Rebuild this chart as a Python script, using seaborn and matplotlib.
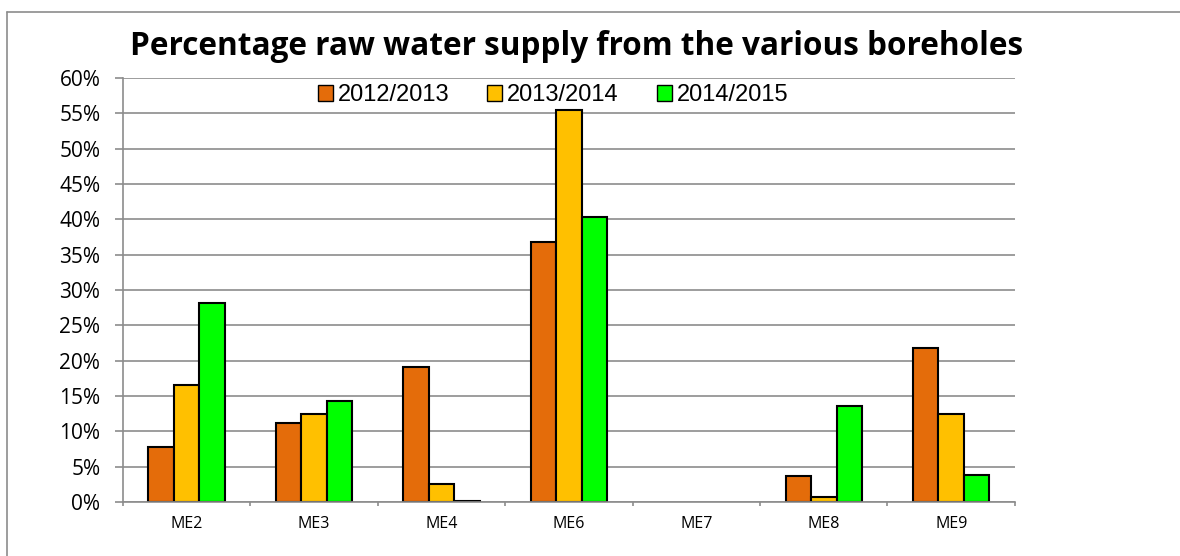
import matplotlib
matplotlib.use('Agg')
import matplotlib.pyplot as plt
from matplotlib.lines import Line2D
from matplotlib.ticker import PercentFormatter, FixedLocator, FixedFormatter
import seaborn as sns
import pandas as pd

### data (percent)
boreholes = ['ME2', 'ME3', 'ME4', 'ME6', 'ME7', 'ME8', 'ME9']
years = ['2012/2013', '2013/2014', '2014/2015']
supply_2012 = [7.8, 11.2, 19.1, 36.8, 0.0, 3.7, 21.8]
supply_2013 = [16.5, 12.5, 2.6, 55.5, 0.0, 0.75, 12.5]
supply_2014 = [28.2, 14.3, 0.1, 40.4, 0.0, 13.6, 3.8]
colours = ['#E46C0A', '#FFC000', '#00FF00']

sns.set_theme(style='white')
plt.rcParams['font.family'] = ['Open Sans', 'DejaVu Sans']
plt.rcParams['text.color'] = 'black'
plt.rcParams['xtick.labelcolor'] = 'black'
plt.rcParams['ytick.labelcolor'] = 'black'

# long form table for seaborn
rows = []
for year, values in zip(years, [supply_2012, supply_2013, supply_2014]):
    for bh, v in zip(boreholes, values):
        rows.append({'borehole': bh, 'year': year, 'pct': v})
df = pd.DataFrame(rows)

fig = plt.figure(figsize=(11.8, 5.56), dpi=100)
ax = fig.add_axes([0.1042, 0.0971, 0.7559, 0.7626])

sns.barplot(data=df, x='borehole', y='pct', hue='year', order=boreholes,
            hue_order=years, palette=colours, width=0.6, gap=0,
            edgecolor='black', linewidth=1.5, saturation=1, ax=ax)

# zero bars show no outline, tiny ones a grey one
for p in ax.patches:
    if p.get_height() <= 0.05:
        p.set_linewidth(0.8 if p.get_height() > 0 else 0)
        p.set_edgecolor('#777777')

ax.set_ylim(0, 60)
ax.set_xlim(-0.5, len(boreholes) - 0.5)
ax.set_yticks(range(0, 61, 5))
ax.yaxis.set_major_formatter(PercentFormatter(decimals=0))
ax.yaxis.grid(True, color='#8c8c8c', linewidth=1.2)
ax.set_axisbelow(True)

# category ticks between groups, labels in the middle
ax.xaxis.set_major_locator(FixedLocator([i - 0.5 for i in range(len(boreholes) + 1)]))
ax.xaxis.set_minor_locator(FixedLocator(range(len(boreholes))))
ax.xaxis.set_minor_formatter(FixedFormatter(boreholes))
ax.set_xticklabels([])
ax.tick_params(axis='x', which='major', length=3, width=1.2, color='#8c8c8c', direction='out', bottom=True)
ax.tick_params(axis='x', which='minor', length=0, labelsize=11.5, pad=10)
ax.tick_params(axis='y', length=5.8, width=1.2, color='#8c8c8c', direction='out', left=True, labelsize=15, pad=10.5)

for s in ['top', 'right']:
    ax.spines[s].set_visible(False)
for s in ['left', 'bottom']:
    ax.spines[s].set_color('#8c8c8c')
    ax.spines[s].set_linewidth(1.2)

ax.set_xlabel('')
ax.set_ylabel('')

leg = ax.legend(loc='center', bbox_to_anchor=(0.482, 0.96), ncol=3, frameon=False,
                handlelength=0.65, handleheight=0.65, handletextpad=0.2, columnspacing=1.6,
                prop={'family': 'Liberation Sans', 'size': 17})
for h in leg.legend_handles:
    h.set_edgecolor('black')
    h.set_linewidth(1.0)

fig.text(0.489, 0.917, 'Percentage raw water supply from the various boreholes',
         ha='center', va='center', fontsize=22.7, fontweight='bold', color='black')

# outer chart frame
fig.add_artist(Line2D([7 / 1180, 7 / 1180], [0, 1 - 12 / 556], color='#8c8c8c', lw=1.2))
fig.add_artist(Line2D([7 / 1180, 1], [1 - 12 / 556, 1 - 12 / 556], color='#8c8c8c', lw=1.2))

fig.savefig('out.png', dpi=100, facecolor='white')
